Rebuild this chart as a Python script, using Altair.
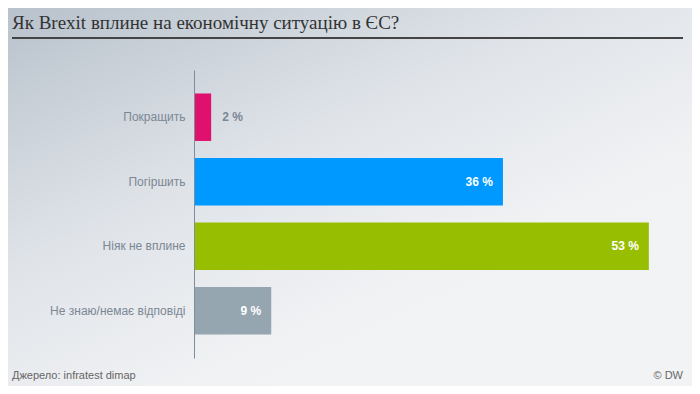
import altair as alt
import pandas as pd

categories = ["Покращить", "Погіршить", "Ніяк не вплине", "Не знаю/немає відповіді"]
values = [2, 36, 53, 9]
colors = ["#e0106f", "#0099ff", "#97be00", "#95a6b1"]

title_text = "Як Brexit вплине на економічну ситуацію в ЄС?"
source_text = "Джерело: infratest dimap"
credit_text = "© DW"

df = pd.DataFrame({"cat": categories, "val": values, "col": colors})
df["label"] = df["val"].astype(str) + " %"

W, H = 472, 288
PL, PT = 186, 62
TOTW, TOTH = 684, 378

base = alt.Chart(df)

ysc = alt.Scale(domain=categories, paddingInner=0.264, paddingOuter=0.364)
xsc = alt.Scale(domain=[0, 55], nice=False)

one = pd.DataFrame({"a": [0]})

bg = alt.Chart(one).mark_rect(
    color=alt.Gradient(
        gradient="linear", x1=0, y1=0, x2=0.75, y2=0.9,
        stops=[alt.GradientStop(color="#b8c2cc", offset=0),
               alt.GradientStop(color="#dfe3e8", offset=0.45),
               alt.GradientStop(color="#f1f2f4", offset=0.8),
               alt.GradientStop(color="#f2f3f5", offset=1)]
    )
).encode(x=alt.value(-PL), x2=alt.value(TOTW - PL), y=alt.value(-PT), y2=alt.value(TOTH - PT))

bars = base.mark_bar().encode(
    y=alt.Y("cat:N", scale=ysc, sort=categories,
            axis=alt.Axis(title=None, ticks=False, domainColor="#7d8d9c", domainWidth=1,
                          labelColor="#7b8794", labelFontSize=12, labelPadding=9,
                          labelFont="Liberation Sans", labelLimit=300, zindex=2)),
    x=alt.X("val:Q", scale=xsc, axis=None),
    color=alt.Color("col:N", scale=None),
)

inside = base.transform_filter("datum.val >= 5").mark_text(
    align="right", dx=-10, color="white", fontWeight="bold", fontSize=12, font="Liberation Sans"
).encode(y=alt.Y("cat:N", scale=ysc, sort=categories), x=alt.X("val:Q", scale=xsc), text="label:N")

outside = base.transform_filter("datum.val < 5").mark_text(
    align="left", dx=11, color="#7b8794", fontWeight="bold", fontSize=12, font="Liberation Sans"
).encode(y=alt.Y("cat:N", scale=ysc, sort=categories), x=alt.X("val:Q", scale=xsc), text="label:N")

title = alt.Chart(one).mark_text(
    text=title_text, align="left", baseline="alphabetic", font="Liberation Serif",
    fontSize=19, color="#333333"
).encode(x=alt.value(-182), y=alt.value(-41))

underline = alt.Chart(one).mark_rule(color="#444444", strokeWidth=2).encode(
    x=alt.value(-182), x2=alt.value(489), y=alt.value(-32))

source = alt.Chart(one).mark_text(
    text=source_text, align="left", baseline="alphabetic", font="Liberation Sans",
    fontSize=11, color="#666666"
).encode(x=alt.value(-182), y=alt.value(309))

credit = alt.Chart(one).mark_text(
    text=credit_text, align="right", baseline="alphabetic", font="Liberation Sans",
    fontSize=11, color="#666666"
).encode(x=alt.value(489), y=alt.value(309))

chart = alt.layer(bg, bars, inside, outside, title, underline, source, credit).properties(
    width=W, height=H,
    padding={"left": PL, "top": PT, "right": TOTW - PL - W, "bottom": TOTH - PT - H},
    autosize=alt.AutoSizeParams(type="none"),
    background="#f1f2f4",
).configure_view(stroke=None)

chart.save("out.html", embed_options={"renderer": "svg", "actions": False})
